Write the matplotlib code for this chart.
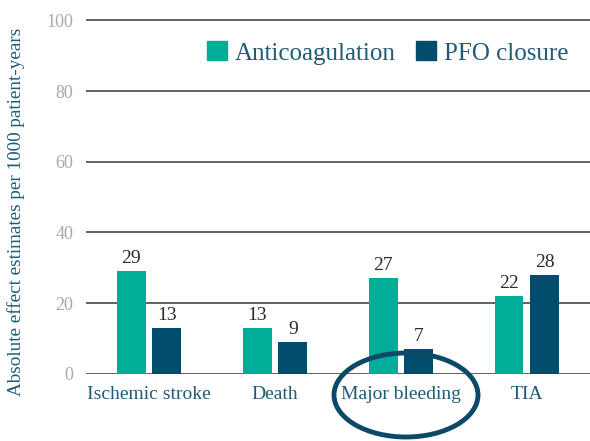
import matplotlib
matplotlib.use("Agg")
import matplotlib.pyplot as plt
from matplotlib.patches import Ellipse, Patch
import numpy as np

categories = ["Ischemic stroke", "Death", "Major bleeding", "TIA"]
anticoag = [29, 13, 27, 22]
pfo = [13, 9, 7, 28]
yticks = [0, 20, 40, 60, 80, 100]

C_ANTI = "#00ad99"
C_PFO = "#004c6c"
C_TEXT = "#1d5b79"

plt.rcParams["font.family"] = ["Liberation Serif", "DejaVu Serif"]

fig = plt.figure(figsize=(5.9, 4.41), dpi=100)
ax = fig.add_axes([0.1458, 0.152, 0.854, 0.806])

x = np.arange(len(categories))
w = 0.23
off = 0.142

# gridlines
for t in yticks:
    ax.axhline(t, color="#555555", lw=1.3, zorder=1)

b1 = ax.bar(x - off, anticoag, w, color=C_ANTI, zorder=2)
b2 = ax.bar(x + off, pfo, w, color=C_PFO, zorder=2)

for bars, vals in [(b1, anticoag), (b2, pfo)]:
    for r, v in zip(bars, vals):
        ax.annotate(str(v), (r.get_x() + r.get_width() / 2, r.get_height()),
                    xytext=(0, 3), textcoords="offset points",
                    ha="center", va="bottom", fontsize=14, color="#2b2b2b")

ax.set_xlim(-0.5, 3.5)
ax.set_ylim(0, 100.5)
ax.set_yticks(yticks)
ax.set_yticklabels([str(t) for t in yticks], fontsize=13, color="#a8a8a8")
ax.set_xticks(x)
ax.set_xticklabels(categories, fontsize=14, color=C_TEXT)
ax.tick_params(axis="both", length=0)
ax.tick_params(axis="y", pad=9)
ax.tick_params(axis="x", pad=9)
for s in ax.spines.values():
    s.set_visible(False)

fig.text(0.027, 0.52, "Absolute effect estimates per 1000 patient-years",
         rotation=90, ha="center", va="center", fontsize=13.8, color=C_TEXT)

handles = [Patch(color=C_ANTI, label="Anticoagulation"),
           Patch(color=C_PFO, label="PFO closure")]
fig.legend(handles=handles, loc="center", bbox_to_anchor=(0.657, 0.88),
           ncol=2, frameon=False, fontsize=18, labelcolor=C_TEXT,
           handlelength=0.8, handleheight=0.8, handletextpad=0.3,
           columnspacing=0.85)

# circle around "Major bleeding"
ell = Ellipse((406 / 590, 1 - 395 / 441), 144 / 590, 84 / 441,
              transform=fig.transFigure, fill=False, edgecolor="#0b4a66",
              lw=3.5, clip_on=False)
fig.patches.append(ell)

fig.savefig("out.png", dpi=100)
